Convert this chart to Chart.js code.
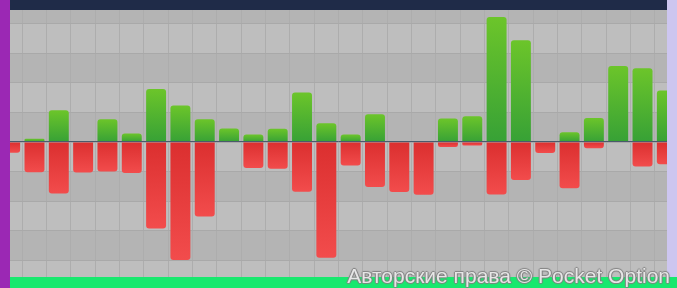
<!DOCTYPE html>
<html>
<head>
<meta charset="utf-8">
<script src="https://cdn.jsdelivr.net/npm/chart.js@4.4.1/dist/chart.umd.min.js"></script>
<style>
  html, body { margin: 0; padding: 0; }
  #wrap { position: relative; width: 677px; height: 288px; overflow: hidden; background: #bdbdbd; }
  #chart { position: absolute; left: -2px; top: -6px; }
  .edge { position: absolute; }
  #top { left: 10px; top: 0; width: 657px; height: 10px; background: #1f2b48; }
  #left { left: 0; top: 0; width: 10px; height: 288px; background: #9b28b4; }
  #right { left: 667px; top: 0; width: 10px; height: 277px; background: #cdc6f0; }
  #bottom { left: 10px; top: 277px; width: 667px; height: 11px; background: #18e86e; }
  #mark {
    position: absolute; right: 7px; top: 265px;
    font: 21px/21px "Liberation Sans", Arial, sans-serif;
    color: #e6e6e6; white-space: nowrap;
    text-shadow: 1px 0 1px #808080, -1px 0 1px #808080, 0 1px 1px #808080, 0 -1px 1px #808080;
  }
</style>
</head>
<body>
<div id="wrap">
  <canvas id="chart" width="681" height="296"></canvas>
  <div class="edge" id="top"></div>
  <div class="edge" id="right"></div>
  <div class="edge" id="bottom"></div>
  <div class="edge" id="left"></div>
  <div id="mark">Авторские права © Pocket Option</div>
</div>
<script>
// bar slots, left to right
const slots = ['1','2','3','4','5','6','7','8','9','10','11','12','13','14',
               '15','16','17','18','19','20','21','22','23','24','25','26','27','28'];
// green part of each slot (above zero)
const gains = [0, 0.11, 1.07, 0, 0.77, 0.29, 1.79, 1.23, 0.77, 0.46, 0.25, 0.45, 1.67, 0.63,
               0.25, 0.94, 0, 0, 0.79, 0.87, 4.22, 3.44, 0, 0.33, 0.81, 2.57, 2.49, 1.74];
// red part of each slot (below zero)
const losses = [-0.36, -1.02, -1.74, -1.03, -1.0, -1.05, -2.92, -3.99, -2.52, 0, -0.88, -0.9, -1.68, -3.91,
                -0.79, -1.52, -1.69, -1.78, -0.17, -0.12, -1.77, -1.28, -0.37, -1.56, -0.21, 0, -0.83, -0.75];
const yMin = -5, yMax = 5;

// vertical gradient per bar, from its end back to zero
function barFill(c, endColor, zeroColor) {
  const chart = c.chart;
  const v = c.raw;
  if (!chart.chartArea || !v) return zeroColor;
  const y = chart.scales.y;
  const g = chart.ctx.createLinearGradient(0, y.getPixelForValue(v), 0, y.getPixelForValue(0));
  g.addColorStop(0, endColor);
  g.addColorStop(1, zeroColor);
  return g;
}

// alternating grey bands between the y ticks
const bands = {
  id: 'bands',
  beforeDraw(chart) {
    const { ctx, chartArea } = chart;
    const y = chart.scales.y;
    ctx.save();
    for (let v = yMin; v < yMax; v++) {
      const top = y.getPixelForValue(v + 1);
      const bot = y.getPixelForValue(v);
      ctx.fillStyle = (Math.abs(v) % 2 === 0) ? '#b4b4b4' : '#bebebe';
      ctx.fillRect(chartArea.left, top, chartArea.right - chartArea.left, bot - top);
    }
    ctx.restore();
  }
};

// thin slate line on zero, over the bars
const zeroLine = {
  id: 'zeroLine',
  afterDatasetsDraw(chart) {
    const { ctx, chartArea } = chart;
    const py = Math.round(chart.scales.y.getPixelForValue(0)) - 0.5;
    ctx.save();
    ctx.strokeStyle = '#4a5a6c';
    ctx.lineWidth = 1;
    ctx.beginPath();
    ctx.moveTo(chartArea.left, py);
    ctx.lineTo(chartArea.right, py);
    ctx.stroke();
    ctx.restore();
  }
};

new Chart(document.getElementById('chart'), {
  type: 'bar',
  data: {
    labels: slots,
    datasets: [{
      data: gains,
      backgroundColor: c => barFill(c, '#6cc52a', '#37a136'),
      borderRadius: 3,
      barPercentage: 0.82,
      categoryPercentage: 1
    }, {
      data: losses,
      backgroundColor: c => barFill(c, '#f24c4c', '#db2f2f'),
      borderRadius: 3,
      barPercentage: 0.82,
      categoryPercentage: 1
    }]
  },
  options: {
    responsive: false,
    animation: false,
    layout: { padding: 0 },
    plugins: { legend: { display: false }, tooltip: { enabled: false } },
    scales: {
      x: {
        stacked: true,
        ticks: { display: false },
        border: { display: false },
        grid: { color: '#adadad', lineWidth: 1, drawTicks: false, offset: true }
      },
      y: {
        stacked: true,
        min: yMin,
        max: yMax,
        ticks: { display: false, stepSize: 1 },
        border: { display: false },
        grid: { color: '#a9a9a9', lineWidth: 1, drawTicks: false }
      }
    }
  },
  plugins: [bands, zeroLine]
});
</script>
</body>
</html>
